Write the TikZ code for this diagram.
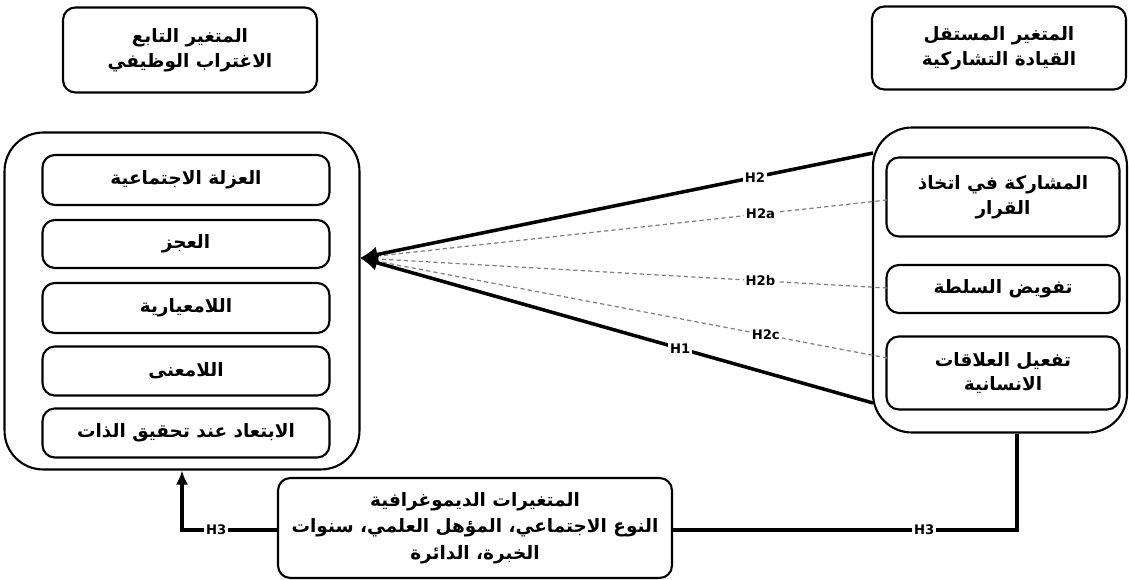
\documentclass[tikz,border=0pt]{standalone}
\usepackage{fontspec}
\newfontfamily\arabicfont[Script=Arabic]{DejaVu Sans}
\newfontfamily\hlabelfont{DejaVu Sans}
\TeXXeTstate=1
\usetikzlibrary{arrows.meta}
\newcommand{\ar}[1]{{\arabicfont\bfseries\beginR #1\endR}}

\tikzset{
	box/.style={draw, line width=1.2pt, rounded corners=7pt, align=center, inner sep=2pt,
		font=\fontsize{10.5}{14}\selectfont},
	bigbox/.style={draw, line width=1.2pt, rounded corners=22pt},
	solidline/.style={line width=2pt},
	hidline/.style={gray, line width=0.7pt, dash pattern=on 2.4pt off 1.8pt},
	lbl/.style={fill=white, text=black, inner sep=1pt, font=\hlabelfont\bfseries\fontsize{7.5}{8}\selectfont}
}

\begin{document}
\begin{tikzpicture}[x=0.02cm, y=-0.02cm]
	\useasboundingbox (0,0) rectangle (1129,580);

	% titles
	\node[box, minimum width=5.08cm, minimum height=1.7cm] (depT) at (190,50) {\ar{المتغير التابع}\\\ar{الاغتراب الوظيفي}};
	\node[box, minimum width=5.08cm, minimum height=1.66cm] (indT) at (999,48) {\ar{المتغير المستقل}\\\ar{القيادة التشاركية}};

	% dependent variable
	\node[bigbox, minimum width=7.1cm, minimum height=6.74cm] (dep) at (182,301) {};
	\node[box, minimum width=5.74cm, minimum height=1cm] (d1) at (186,180) {\ar{العزلة الاجتماعية}};
	\node[box, minimum width=5.74cm, minimum height=0.96cm] (d2) at (186,244) {\ar{العجز}};
	\node[box, minimum width=5.74cm, minimum height=1cm] (d3) at (186,308) {\ar{اللامعيارية}};
	\node[box, minimum width=5.74cm, minimum height=0.98cm] (d4) at (186,371) {\ar{اللامعنى}};
	\node[box, minimum width=5.74cm, minimum height=0.98cm] (d5) at (186,433) {\ar{الابتعاد عند تحقيق الذات}};

	% independent variable
	\node[bigbox, minimum width=5.08cm, minimum height=6.1cm] (ind) at (1000,280) {};
	\node[box, minimum width=4.66cm, minimum height=1.58cm] (i1) at (1003,197) {\ar{المشاركة في اتخاذ}\\\ar{القرار}};
	\node[box, minimum width=4.66cm, minimum height=0.96cm] (i2) at (1003,289) {\ar{تفويض السلطة}};
	\node[box, minimum width=4.66cm, minimum height=1.46cm] (i3) at (1003,373) {\ar{تفعيل العلاقات}\\\ar{الانسانية}};

	% demographic
	\node[box, minimum width=7.88cm, minimum height=2cm, font=\fontsize{10.5}{15}\selectfont] (demo) at (475,528) {\ar{المتغيرات الديموغرافية}\\\ar{النوع الاجتماعي، المؤهل العلمي، سنوات}\\\ar{الخبرة، الدائرة}};

	\coordinate (tip) at (360,258);
	\coordinate (h2s) at (873,153);
	\coordinate (h1s) at (873,403);
	\coordinate (a1) at (887,200);
	\coordinate (b1) at (887,288);
	\coordinate (c1) at (887,358);
	\coordinate (k1) at (182,530);
	\coordinate (k2) at (1017,530);

	\draw[hidline] (a1) -- node[lbl,pos=0.24]{H2a} (tip);
	\draw[hidline] (b1) -- node[lbl,pos=0.24]{H2b} (tip);
	\draw[hidline] (c1) -- node[lbl,pos=0.23]{H2c} (tip);
	\draw[solidline,-{Latex[length=10pt,width=9pt]}] (h2s) -- node[lbl,pos=0.23]{H2} (tip);
	\draw[solidline,-{Latex[length=10pt,width=9pt]}] (h1s) -- node[lbl,pos=0.376]{H1} (tip);

	% H3
	\draw[solidline,-{Latex[length=8pt,width=7pt]}] (demo.west |- k1) -- node[lbl,pos=0.64]{H3} (k1) -- (dep.south -| k1);
	\draw[solidline] (demo.east |- k2) -- node[lbl,pos=0.73]{H3} (k2) -- (ind.south -| k2);
\end{tikzpicture}
\end{document}
